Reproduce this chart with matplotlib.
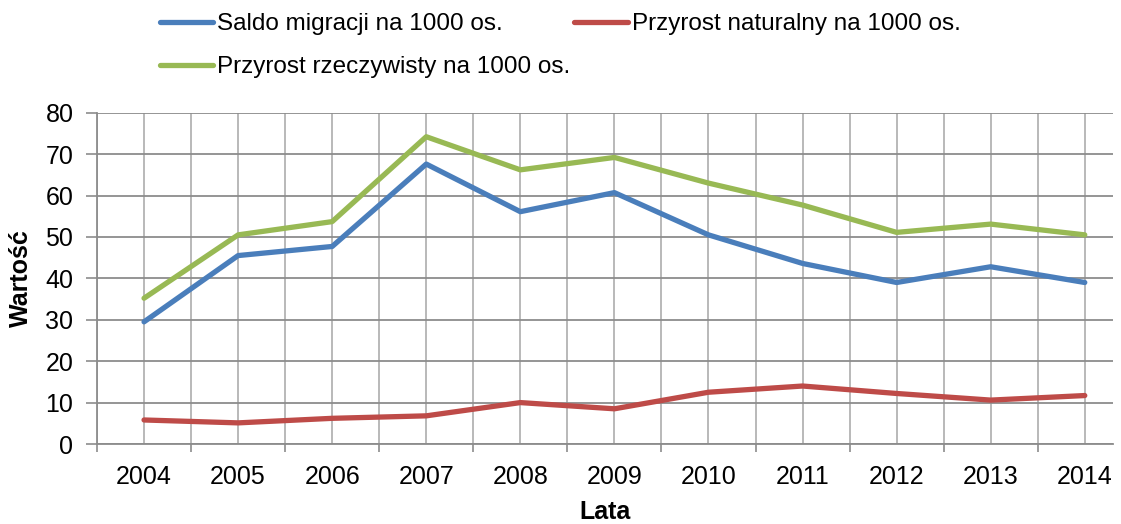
import numpy as np
import matplotlib
matplotlib.use('Agg')
import matplotlib.pyplot as plt

plt.rcParams['font.family'] = ['Liberation Sans', 'DejaVu Sans']

# Dane
lata = ['2004', '2005', '2006', '2007', '2008', '2009', '2010', '2011', '2012', '2013', '2014']
saldo_migracji = [29.5, 45.5, 47.7, 67.6, 56.1, 60.7, 50.5, 43.6, 39.0, 42.8, 39.0]
przyrost_naturalny = [5.8, 5.1, 6.2, 6.8, 10.0, 8.5, 12.5, 14.0, 12.2, 10.6, 11.7]
przyrost_rzeczywisty = [35.2, 50.5, 53.7, 74.2, 66.2, 69.2, 63.0, 57.7, 51.1, 53.1, 50.5]

fig = plt.figure(figsize=(11.21, 5.24), dpi=100)
ax = fig.add_axes([97 / 1121, 1 - 444 / 524, (1113 - 97) / 1121, (444 - 112.7) / 524])

x = np.arange(len(lata))
l1, = ax.plot(x, saldo_migracji, color='#4a7ebb', lw=3.8, solid_capstyle='round',
              label='Saldo migracji na 1000 os.')
l2, = ax.plot(x, przyrost_naturalny, color='#be4b48', lw=3.8, solid_capstyle='round',
              label='Przyrost naturalny na 1000 os.')
l3, = ax.plot(x, przyrost_rzeczywisty, color='#98b954', lw=3.8, solid_capstyle='round',
              label='Przyrost rzeczywisty na 1000 os.')

# Osie
ax.set_yticks(range(0, 81, 10))
ax.set_xticks(np.arange(-0.5, 10.6, 1.0))
ax.set_xticklabels([])
ax.set_xticks(x, minor=True)
ax.set_xticklabels(lata, minor=True)
ax.set_xlim(-0.5, 10.3)
ax.set_ylim(0, 80)
ax.tick_params(axis='x', which='major', length=6, color='#8c8c8c', width=1.2)
ax.tick_params(axis='x', which='minor', length=0, pad=15, labelsize=18)
ax.tick_params(axis='y', length=8, color='#8c8c8c', width=1.2, pad=9, labelsize=18)

ax.grid(True, which='major', axis='y', color='#8c8c8c', lw=1.3)
ax.grid(True, which='both', axis='x', color='#b3b3b3', lw=1.3)
ax.set_axisbelow(True)
for s in ['top', 'right']:
    ax.spines[s].set_visible(False)
for s in ['left', 'bottom']:
    ax.spines[s].set_color('#8c8c8c')
    ax.spines[s].set_linewidth(1.3)

ax.set_xlabel('Lata', fontsize=18, fontweight='bold', labelpad=8)
ax.set_ylabel('Wartość', fontsize=18, fontweight='bold', labelpad=9)

# Legenda
fig.legend(handles=[l1, l3, l2], loc='upper left', bbox_to_anchor=(160 / 1121, 1 - 13 / 524),
           ncol=2, frameon=False, fontsize=17.5, handlelength=2.2, handletextpad=0.16,
           columnspacing=0.15, labelspacing=0.88, borderpad=0, borderaxespad=0)

plt.savefig('out.png', dpi=100)
